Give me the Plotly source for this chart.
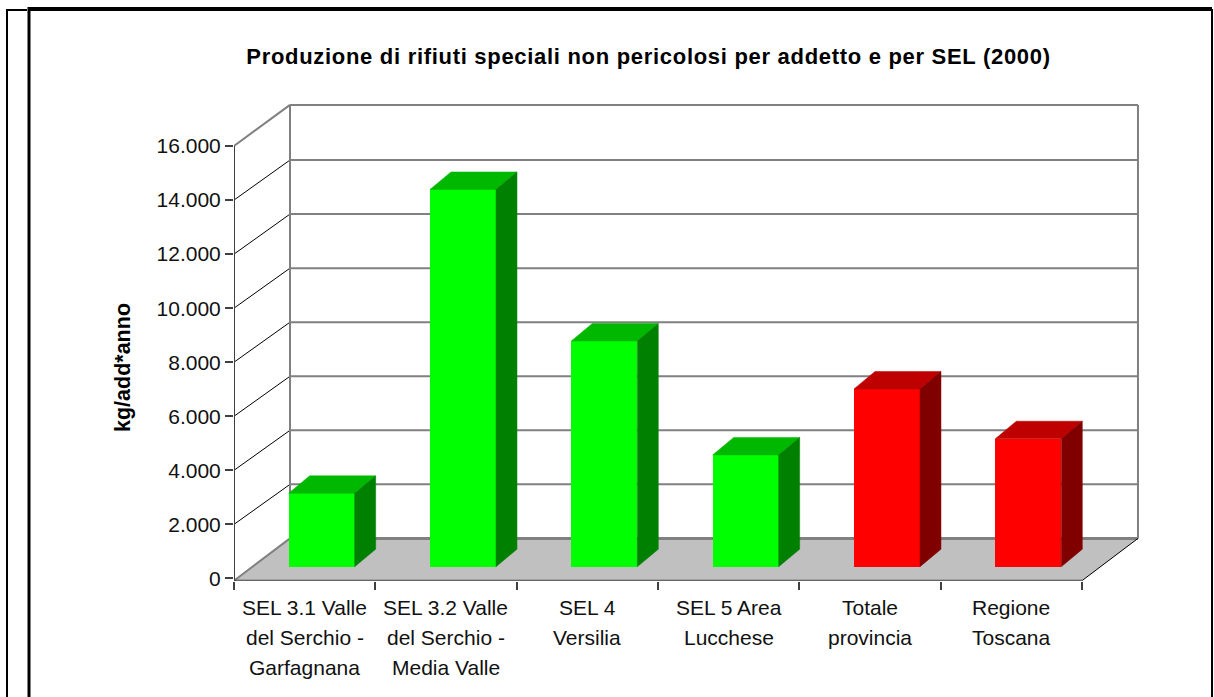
import plotly.graph_objects as go

# ---- data ----
CATEGORY_LINES = [
    ["SEL 3.1 Valle", "del Serchio -", "Garfagnana"],
    ["SEL 3.2 Valle", "del Serchio -", "Media Valle"],
    ["SEL 4", "Versilia"],
    ["SEL 5 Area", "Lucchese"],
    ["Totale", "provincia"],
    ["Regione", "Toscana"],
]
VALUES = [2715, 13960, 8350, 4135, 6575, 4735]
TICK_VALUES = [0, 2000, 4000, 6000, 8000, 10000, 12000, 14000, 16000]
TICK_LABELS = ["0", "2.000", "4.000", "6.000", "8.000", "10.000", "12.000", "14.000", "16.000"]
TITLE = "Produzione di rifiuti speciali non pericolosi per addetto e per SEL (2000)"
Y_TITLE = "kg/add*anno"
FRONT = ["#00FF00"] * 4 + ["#FF0000"] * 2
TOP = ["#00B800"] * 4 + ["#BF0000"] * 2
SIDE = ["#008000"] * 4 + ["#800000"] * 2

# ---- layout constants ----
W, H = 1214, 697
PX_X = 141.33          # px per category
PX_Y = 0.027025        # px per value unit
X0_PX, Y0_PX = 234, 578.4
RIGHT_PX, TOP_PX, BOTTOM_PX = 1160, 90, 580.7
WALL_DX, WALL_DY = 56 / PX_X, 40 / PX_Y
FLOOR_Y = (Y0_PX - BOTTOM_PX) / PX_Y
BAR_SHIFT = 17 / PX_X
BAR_W = 66 / PX_X
BAR_BASE = 11.7 / PX_Y
DEPTH_X, DEPTH_Y = 21 / PX_X, 17.5 / PX_Y
N = len(VALUES)
WALL_GREY = "#808080"
AXIS_DARK = "#404040"
TEXT = "#111111"
FONT = "Liberation Sans"

fig = go.Figure()
centers = [i + 0.5 + BAR_SHIFT for i in range(N)]
fig.add_trace(go.Bar(x=centers, y=VALUES, base=BAR_BASE, width=BAR_W,
                     marker=dict(color=FRONT, line_width=0), hoverinfo="skip", showlegend=False))
for c, v, top, side in zip(centers, VALUES, TOP, SIDE):
    l, r = c - BAR_W / 2, c + BAR_W / 2
    t = BAR_BASE + v
    fig.add_trace(go.Scatter(x=[l, r, r + DEPTH_X, l + DEPTH_X, l], y=[t, t, t + DEPTH_Y, t + DEPTH_Y, t],
                             mode="lines", line=dict(width=0.5, color=top), fill="toself", fillcolor=top,
                             hoverinfo="skip", showlegend=False))
    fig.add_trace(go.Scatter(x=[r, r + DEPTH_X, r + DEPTH_X, r, r],
                             y=[t, t + DEPTH_Y, BAR_BASE + DEPTH_Y, BAR_BASE, t],
                             mode="lines", line=dict(width=0.5, color=side), fill="toself", fillcolor=side,
                             hoverinfo="skip", showlegend=False))

def seg(x0, y0, x1, y1, color, width):
    return dict(type="line", xref="x", yref="y", x0=x0, y0=y0, x1=x1, y1=y1, layer="below",
                line=dict(color=color, width=width))

def frame(x0, y0, x1, y1, color, width):
    return dict(type="line", xref="paper", yref="paper", x0=x0 / W, y0=1 - y0 / H, x1=x1 / W, y1=1 - y1 / H,
                layer="above", line=dict(color=color, width=width))

ymax = TICK_VALUES[-1]
back_top = ymax + WALL_DY + 40
shapes = [dict(type="path", xref="x", yref="y", layer="below", line_width=0, fillcolor="#C0C0C0",
               path=f"M 0 {FLOOR_Y} L {N} {FLOOR_Y} L {N + WALL_DX} {WALL_DY} L {WALL_DX} {WALL_DY} Z")]
for v in TICK_VALUES[1:-1]:
    shapes.append(seg(0, v, WALL_DX, v + WALL_DY, "#000000", 1))
    shapes.append(seg(WALL_DX, v + WALL_DY, N + WALL_DX, v + WALL_DY, WALL_GREY, 2))
shapes += [
    seg(WALL_DX, WALL_DY, N + WALL_DX, WALL_DY, WALL_GREY, 3),
    seg(0, ymax, WALL_DX, back_top, WALL_GREY, 2),
    seg(WALL_DX, back_top, N + WALL_DX, back_top, WALL_GREY, 2),
    seg(WALL_DX, WALL_DY, WALL_DX, back_top, WALL_GREY, 2),
    seg(N + WALL_DX, WALL_DY, N + WALL_DX, back_top, WALL_GREY, 2),
    seg(0, FLOOR_Y, WALL_DX, WALL_DY, WALL_GREY, 2),
    seg(N, FLOOR_Y, N + WALL_DX, WALL_DY, "#000000", 1),
    seg(0, FLOOR_Y, N, FLOOR_Y, AXIS_DARK, 2),
    seg(0, FLOOR_Y, 0, ymax, AXIS_DARK, 2),
    frame(7, 9, 7, H, "#000000", 2),
    frame(6, 10, 27, 10, "#000000", 2),
    frame(29, 7, 29, H, "#000000", 3),
    frame(28, 9, W - 2, 9, "#000000", 4),
    frame(1212, 9, 1212, H, "#000000", 2),
]

annotations = []
ROW_PX = [607, 637, 667]
for i, lines in enumerate(CATEGORY_LINES):
    for j, line in enumerate(lines):
        annotations.append(dict(text=line, x=i + 0.5, xref="x", xanchor="center",
                                y=1 - ROW_PX[j] / H, yref="paper", yanchor="middle", showarrow=False,
                                font=dict(family=FONT, size=21, color=TEXT)))
annotations.append(dict(text=f"<b>{Y_TITLE}</b>", textangle=-90, x=123 / W, xref="paper", xanchor="center",
                        y=1 - 368 / H, yref="paper", yanchor="middle", showarrow=False,
                        font=dict(family=FONT, size=21.5, color="#000000")))

fig.update_layout(
    width=W, height=H, margin=dict(l=0, r=0, t=0, b=0), template="none",
    paper_bgcolor="white", plot_bgcolor="white", bargap=0, showlegend=False,
    font=dict(family=FONT, color=TEXT),
    title=dict(text=f"<b>{TITLE}</b>", x=648.5 / W, xanchor="center", y=1 - 56 / H, yanchor="middle",
               font=dict(family=FONT, size=22, color="#000000")),
    xaxis=dict(domain=[X0_PX / W, RIGHT_PX / W], range=[0, (RIGHT_PX - X0_PX) / PX_X], automargin=False,
               tickmode="array", tickvals=list(range(N + 1)), showticklabels=False,
               ticks="outside", ticklen=8, tickwidth=2, tickcolor=AXIS_DARK,
               showline=False, showgrid=False, zeroline=False),
    yaxis=dict(domain=[1 - BOTTOM_PX / H, 1 - TOP_PX / H], automargin=False,
               range=[FLOOR_Y, (Y0_PX - TOP_PX) / PX_Y],
               tickmode="array", tickvals=TICK_VALUES, ticktext=TICK_LABELS,
               ticks="outside", ticklen=8, tickwidth=2, tickcolor=AXIS_DARK,
               tickfont=dict(family=FONT, size=21, color=TEXT),
               showline=False, showgrid=False, zeroline=False),
    shapes=shapes, annotations=annotations,
)

fig.write_html("out.html", config=dict(displayModeBar=False),
               post_script="document.body.style.margin='0';document.body.style.overflow='hidden';"
               "var s=document.createElement('style');"
               "s.textContent='.gtitle{letter-spacing:0.7px}';"
               "document.head.appendChild(s);")
